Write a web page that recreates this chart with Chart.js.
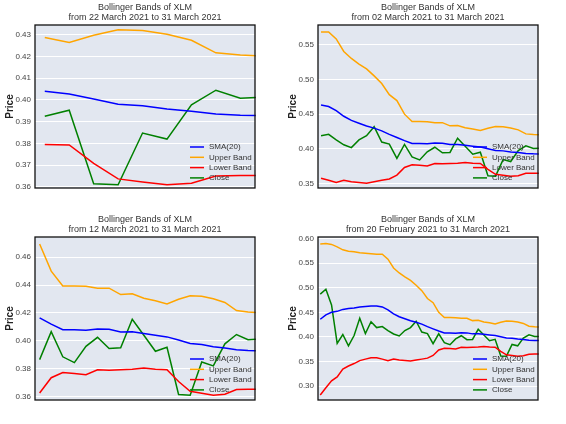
<!DOCTYPE html>
<html><head><meta charset="utf-8">
<script src="https://cdn.jsdelivr.net/npm/chart.js@4"></script>
<style>
body{margin:0;background:#fff;width:566px;height:424px;position:relative;overflow:hidden}
.p{position:absolute;width:283px;height:212px}
canvas{display:block}
</style></head><body>
<div class="p" style="left:0;top:0"><canvas id="c0" width="283" height="212"></canvas></div>
<div class="p" style="left:283px;top:0"><canvas id="c1" width="283" height="212"></canvas></div>
<div class="p" style="left:0;top:212px"><canvas id="c2" width="283" height="212"></canvas></div>
<div class="p" style="left:283px;top:212px"><canvas id="c3" width="283" height="212"></canvas></div>
<script>
// 40 trading days: 20 Feb 2021 .. 31 Mar 2021
const closeVals = [0.487,0.497,0.465,0.387,0.405,0.382,0.403,0.438,0.407,0.431,
  0.419,0.421,0.413,0.406,0.402,0.413,0.419,0.432,0.410,0.407,
  0.3865,0.4065,0.3885,0.3843,0.396,0.4025,0.3945,0.395,0.4155,0.404,
  0.3925,0.3953,0.3615,0.361,0.3848,0.382,0.3978,0.4045,0.4008,0.4013];
const smaVals = [0.436,0.445,0.450,0.452,0.456,0.458,0.459,0.461,0.462,0.463,
  0.463,0.461,0.455,0.447,0.441,0.437,0.433,0.430,0.426,0.421,
  0.4165,0.412,0.408,0.408,0.4075,0.4085,0.4083,0.4063,0.4065,0.4053,
  0.404,0.4028,0.4005,0.398,0.3973,0.3958,0.3948,0.3935,0.393,0.3928];
const upperVals = [0.589,0.590,0.588,0.583,0.577,0.574,0.573,0.571,0.570,0.569,
  0.568,0.568,0.558,0.540,0.530,0.522,0.515,0.505,0.494,0.478,
  0.4695,0.450,0.4393,0.4393,0.4392,0.4378,0.4378,0.4332,0.4338,0.4305,
  0.4287,0.4265,0.4298,0.4323,0.432,0.4302,0.4275,0.4217,0.4207,0.4202];
const lowerVals = [0.282,0.297,0.311,0.319,0.335,0.341,0.346,0.352,0.355,0.358,
  0.358,0.355,0.352,0.355,0.353,0.352,0.351,0.353,0.355,0.357,
  0.3625,0.3735,0.3772,0.3765,0.3757,0.3792,0.3788,0.3793,0.3795,0.3805,
  0.3795,0.3793,0.3708,0.3637,0.3623,0.361,0.3617,0.365,0.3653,0.3653];
const dates = [];
for(let d=new Date(2021,1,20); d<=new Date(2021,2,31); d.setDate(d.getDate()+1)) dates.push(d.toISOString().slice(0,10));

const panels = [
 {id:'c0', n:10, sub:'from 22 March 2021 to 31 March 2021', min:0.3595, max:0.4345, ticks:[0.36,0.37,0.38,0.39,0.40,0.41,0.42,0.43]},
 {id:'c1', n:30, sub:'from 02 March 2021 to 31 March 2021', min:0.344, max:0.578, ticks:[0.35,0.40,0.45,0.50,0.55]},
 {id:'c2', n:20, sub:'from 12 March 2021 to 31 March 2021', min:0.3575, max:0.4745, ticks:[0.36,0.38,0.40,0.42,0.44,0.46]},
 {id:'c3', n:40, sub:'from 20 February 2021 to 31 March 2021', min:0.272, max:0.603, ticks:[0.30,0.35,0.40,0.45,0.50,0.55,0.60]}
];
const FONT = '"Liberation Sans", Arial, sans-serif';
const deco = {
 id:'deco',
 beforeDraw(c){const a=c.chartArea,x=c.ctx;x.save();x.fillStyle='#e2e7f0';x.fillRect(a.left,a.top,a.width,a.height);x.restore();},
 afterDraw(c){const a=c.chartArea,x=c.ctx;x.save();
  x.strokeStyle='#111';x.lineWidth=1.3;x.strokeRect(a.left,a.top,a.width,a.height);
  x.fillStyle='#333';x.font='9px '+FONT;x.textAlign='center';x.textBaseline='middle';
  const cx=(a.left+a.right)/2; x.fillText('Bollinger Bands of XLM',cx,a.top-17); x.fillText(c.options.plugins.sub,cx,a.top-7);
  x.textAlign='left';x.font='8px '+FONT;
  c.data.datasets.forEach((ds,i)=>{const y=a.bottom-41+i*10.3;x.strokeStyle=ds.borderColor;x.lineWidth=1.5;
   x.beginPath();x.moveTo(a.right-65,y);x.lineTo(a.right-51,y);x.stroke();x.fillStyle='#333';x.fillText(ds.label,a.right-46,y);});
  x.restore();}
};
panels.forEach(p=>{
 const s=arr=>arr.slice(40-p.n);
 new Chart(document.getElementById(p.id),{type:'line',
  data:{labels:s(dates),datasets:[
   {label:'SMA(20)',data:s(smaVals),borderColor:'#0000ff'},
   {label:'Upper Band',data:s(upperVals),borderColor:'#ffa500'},
   {label:'Lower Band',data:s(lowerVals),borderColor:'#ff0000'},
   {label:'Close',data:s(closeVals),borderColor:'#008000'}]},
  options:{responsive:false,animation:false,devicePixelRatio:1,
   elements:{point:{radius:0},line:{borderWidth:1.5,tension:0}},
   layout:{padding:{top:25,right:28,bottom:24,left:4}},
   plugins:{legend:{display:false},tooltip:{enabled:false},title:{display:false},sub:p.sub},
   scales:{
    x:{display:false,offset:false,grid:{display:false},
       afterDataLimits:sc=>{sc.min=-0.4;sc.max=p.n-1+0.4;}},
    y:{min:p.min,max:p.max,afterFit:sc=>{sc.width=31;},
       afterBuildTicks:sc=>{sc.ticks=p.ticks.map(v=>({value:v}));},
       border:{display:false},grid:{color:'#ffffff',lineWidth:1,drawTicks:false},
       ticks:{padding:4,color:'#444',font:{size:8,family:FONT},callback:v=>v.toFixed(2)},
       title:{display:true,text:'Price',color:'#222',padding:0,font:{size:10,weight:'bold',family:FONT}}}}
  },plugins:[deco]});
});
</script>
</body></html>
